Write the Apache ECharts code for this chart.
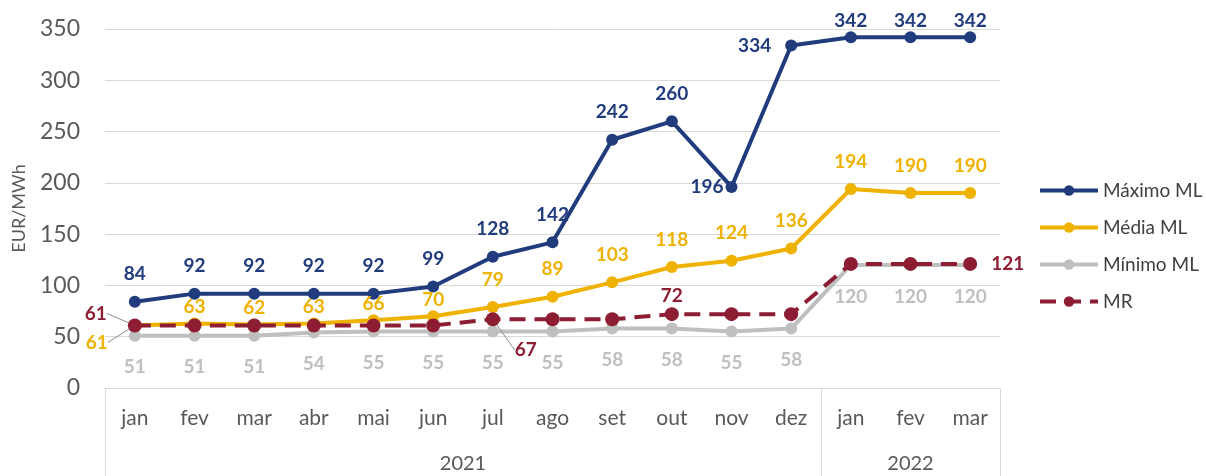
<!DOCTYPE html>
<html>
<head>
<meta charset="utf-8">
<script src="https://cdn.jsdelivr.net/npm/echarts@6/dist/echarts.min.js"></script>
<style>html,body{margin:0;padding:0;background:#fff}#c{width:1206px;height:476px}</style>
</head>
<body>
<div id="c"></div>
<script>
const months = ['jan','fev','mar','abr','mai','jun','jul','ago','set','out','nov','dez','jan','fev','mar'];
const years = ['2021','2022'];
const yearSizes = [12, 3];
const maximo = [84, 92, 92, 92, 92, 99, 128, 142, 242, 260, 196, 334, 342, 342, 342];
const media  = [61, 63, 62, 63, 66, 70, 79, 89, 103, 118, 124, 136, 194, 190, 190];
const minimo = [51, 51, 51, 54, 55, 55, 55, 55, 58, 58, 55, 58, 120, 120, 120];
const mr     = [61, 61, 61, 61, 61, 61, 67, 67, 67, 72, 72, 72, 121, 121, 121];
const mrLabelled = [0, 6, 9, 14];
const yTicks = {min: 0, max: 350, interval: 50};

const C = {max: '#203C7C', med: '#EFB200', min: '#BFBFBF', mr: '#8C1D33', text: '#595959', grid: '#D9D9D9'};
const FONT = 'Lato';

// year group boundaries & centers
const bounds = [0]; const centers = [];
yearSizes.forEach((s, i) => { centers.push(bounds[i] + s / 2); bounds.push(bounds[i] + s); });

const lbl = (color, pos, dist) => ({show: true, position: pos, distance: dist, color: color,
  fontFamily: FONT, fontWeight: 'bold', fontSize: 19});

const maxData = maximo.map((v, i) => {
  if (i === 10) return {value: v, label: {position: 'left', distance: 2}};
  if (i === 11) return {value: v, label: {position: 'left', distance: 14}};
  if (i >= 12) return {value: v, label: {distance: 1}};
  return v;
});
const medData = media.map((v, i) => {
  if (i === 0) return {value: v, label: {position: 'left', distance: 5}, labelLine: {show: true}};
  if (i >= 1 && i <= 5) return {value: v, label: {distance: 1}};
  return v;
});
const mrData = mr.map((v, i) => {
  if (!mrLabelled.includes(i)) return {value: v, label: {show: false}};
  if (i === 0) return {value: v, label: {position: 'left', distance: 5}, labelLine: {show: true}};
  if (i === 6) return {value: v, label: {position: 'right', distance: 5}, labelLine: {show: true}};
  if (i === 14) return {value: v, label: {position: 'right', distance: 14}};
  return {value: v, label: {position: 'top', distance: 2}};
});

const chart = echarts.init(document.getElementById('c'));
chart.setOption({
  animation: false,
  textStyle: {fontFamily: FONT},
  grid: {left: 105, right: 206, top: 29, bottom: 88, outerBoundsMode: 'none', containLabel: false},
  legend: {
    orient: 'vertical', left: 1033, top: 176, itemWidth: 58, itemHeight: 13, itemGap: 18,
    lineStyle: {width: 4},
    textStyle: {color: '#404040', fontSize: 19, fontFamily: FONT},
    data: ['Máximo ML', 'Média ML', 'Mínimo ML', 'MR']
  },
  xAxis: [{
    type: 'category', data: months, boundaryGap: true,
    axisLine: {show: true, lineStyle: {color: C.grid, width: 1}},
    axisTick: {show: false},
    axisLabel: {color: C.text, fontSize: 21, margin: 20, fontFamily: FONT, interval: 0}
  }, {
    type: 'value', min: 0, max: months.length, position: 'bottom',
    axisLine: {show: false}, splitLine: {show: false},
    axisTick: {show: true, customValues: bounds, length: 90, lineStyle: {color: C.grid}},
    axisLabel: {show: true, customValues: centers, margin: 66, color: C.text, fontSize: 20, fontFamily: FONT,
      formatter: v => { const k = centers.indexOf(v); return k >= 0 ? years[k] : ''; }}
  }],
  yAxis: {
    type: 'value', min: yTicks.min, max: yTicks.max, interval: yTicks.interval,
    name: 'EUR/MWh', nameLocation: 'middle', nameGap: 77, nameRotate: 90,
    nameTextStyle: {color: C.text, fontSize: 18, fontFamily: FONT},
    axisLine: {show: false}, axisTick: {show: false},
    axisLabel: {color: C.text, fontSize: 23, margin: 25, fontFamily: FONT},
    splitLine: {lineStyle: {color: C.grid, width: 1}}
  },
  labelLayout: function (p) {
    if (p.seriesIndex === 1 && p.dataIndex === 0) return {dx: -16, dy: 17};
    if (p.seriesIndex === 3 && p.dataIndex === 0) return {dx: -16, dy: -12};
    if (p.seriesIndex === 3 && p.dataIndex === 6) return {dx: 10, dy: 31};
    return {};
  },
  series: [
    {name: 'Máximo ML', type: 'line', data: maxData, symbol: 'circle', symbolSize: 12,
      lineStyle: {color: C.max, width: 4}, itemStyle: {color: C.max}, label: lbl(C.max, 'top', 12), z: 2},
    {name: 'Média ML', type: 'line', data: medData, symbol: 'circle', symbolSize: 12,
      lineStyle: {color: C.med, width: 4}, itemStyle: {color: C.med}, label: lbl(C.med, 'top', 12),
      labelLine: {lineStyle: {color: '#8C8C8C', width: 1}}, z: 2},
    {name: 'Mínimo ML', type: 'line', data: minimo, symbol: 'circle', symbolSize: 12,
      lineStyle: {color: C.min, width: 4}, itemStyle: {color: C.min}, label: lbl(C.min, 'bottom', 16), z: 1},
    {name: 'MR', type: 'line', data: mrData, symbol: 'circle', symbolSize: 14,
      lineStyle: {color: C.mr, width: 4, type: [16, 9]}, itemStyle: {color: C.mr}, label: lbl(C.mr, 'top', 2),
      labelLine: {lineStyle: {color: '#8C8C8C', width: 1}}, z: 3}
  ]
});
</script>
</body>
</html>
